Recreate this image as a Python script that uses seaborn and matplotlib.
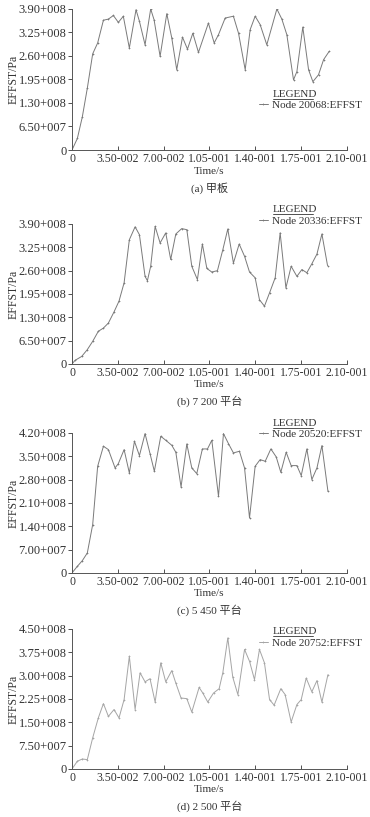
"""Curvas de tensão efetiva (EFFST) x tempo para quatro nós"""

import matplotlib
matplotlib.use("Agg")
import matplotlib.pyplot as plt
import seaborn as sns
import pandas as pd

# valores em 1e8 Pa
time_a = [0, 0.0041, 0.0079, 0.0117, 0.0158, 0.0196, 0.0240, 0.0278, 0.0316, 0.0354,
          0.0392, 0.0438, 0.0489, 0.0515, 0.0558, 0.0601, 0.0627, 0.0673, 0.0724, 0.0762,
          0.0800, 0.0844, 0.0882, 0.0923, 0.0966, 0.1042, 0.1086, 0.1119, 0.1170, 0.1233,
          0.1272, 0.1323, 0.1361, 0.1399, 0.1437, 0.1488, 0.1565, 0.1603, 0.1641, 0.1692,
          0.1718, 0.1763, 0.1807, 0.1840, 0.1883, 0.1922, 0.1965]
effst_a = [0, 0.32, 0.92, 1.71, 2.66, 2.96, 3.59, 3.62, 3.72, 3.53,
           3.70, 2.82, 3.88, 3.56, 2.91, 3.90, 3.60, 2.59, 3.77, 3.10,
           2.22, 3.12, 2.79, 3.23, 2.70, 3.51, 2.96, 3.19, 3.65, 3.70,
           3.23, 2.22, 3.33, 3.70, 3.47, 2.91, 3.90, 3.62, 3.19, 1.94,
           2.17, 3.40, 2.22, 1.89, 2.08, 2.50, 2.73]

time_b = [0, 0.0023, 0.0074, 0.0117, 0.0158, 0.0201, 0.0240, 0.0278, 0.0321, 0.0359,
          0.0398, 0.0438, 0.0482, 0.0515, 0.0558, 0.0576, 0.0601, 0.0635, 0.0673, 0.0716,
          0.0754, 0.0793, 0.0838, 0.0877, 0.0915, 0.0958, 0.0996, 0.1030, 0.1068, 0.1111,
          0.1152, 0.1190, 0.1233, 0.1277, 0.1318, 0.1356, 0.1399, 0.1432, 0.1470, 0.1509,
          0.1552, 0.1590, 0.1634, 0.1674, 0.1718, 0.1756, 0.1794, 0.1832, 0.1871, 0.1909,
          0.1952]
effst_b = [0, 0.10, 0.21, 0.40, 0.63, 0.91, 1.00, 1.14, 1.45, 1.75,
           2.26, 3.46, 3.82, 3.60, 2.44, 2.32, 2.72, 3.83, 3.37, 3.65,
           2.91, 3.62, 3.77, 3.74, 2.72, 2.35, 3.34, 2.66, 2.56, 2.60,
           3.18, 3.76, 2.81, 3.34, 3.00, 2.56, 2.40, 1.79, 1.61, 1.98,
           2.40, 3.65, 2.12, 2.72, 2.44, 2.63, 2.54, 2.79, 3.06, 3.62,
           2.74]

time_c = [0, 0.0041, 0.0079, 0.0117, 0.0158, 0.0196, 0.0240, 0.0278, 0.0329, 0.0354,
          0.0398, 0.0438, 0.0477, 0.0515, 0.0558, 0.0596, 0.0629, 0.0678, 0.0716, 0.0762,
          0.0793, 0.0833, 0.0877, 0.0915, 0.0953, 0.0996, 0.1035, 0.1068, 0.1119, 0.1157,
          0.1195, 0.1233, 0.1279, 0.1318, 0.1356, 0.1399, 0.1437, 0.1476, 0.1519, 0.1560,
          0.1595, 0.1636, 0.1674, 0.1718, 0.1751, 0.1794, 0.1832, 0.1871, 0.1909, 0.1955]
effst_c = [0, 0.20, 0.37, 0.60, 1.45, 3.20, 3.80, 3.70, 3.15, 3.28,
           3.70, 3.00, 3.95, 3.52, 4.18, 3.58, 3.05, 4.10, 3.98, 3.83,
           3.62, 2.58, 3.87, 3.15, 2.98, 3.72, 3.72, 3.98, 2.30, 4.18,
           3.88, 3.60, 3.65, 3.15, 1.65, 3.20, 3.40, 3.35, 3.72, 3.48,
           3.02, 3.62, 3.22, 3.22, 2.92, 3.72, 2.80, 3.15, 3.82, 2.45]

time_d = [0, 0.0041, 0.0079, 0.0117, 0.0158, 0.0201, 0.0240, 0.0278, 0.0321, 0.0359,
          0.0398, 0.0438, 0.0482, 0.0520, 0.0558, 0.0596, 0.0635, 0.0678, 0.0716, 0.0762,
          0.0793, 0.0833, 0.0877, 0.0915, 0.0971, 0.0999, 0.1037, 0.1081, 0.1124, 0.1152,
          0.1190, 0.1228, 0.1267, 0.1318, 0.1356, 0.1394, 0.1432, 0.1470, 0.1509, 0.1544,
          0.1595, 0.1628, 0.1674, 0.1718, 0.1751, 0.1789, 0.1832, 0.1871, 0.1909, 0.1955]
effst_d = [0, 0.25, 0.32, 0.30, 1.00, 1.64, 2.10, 1.69, 1.91, 1.64,
           2.23, 3.62, 1.91, 3.09, 2.80, 2.90, 2.15, 3.41, 2.80, 3.16,
           2.76, 2.28, 2.26, 1.83, 2.62, 2.44, 2.15, 2.44, 2.58, 3.09,
           4.21, 2.95, 2.39, 3.84, 3.46, 2.87, 3.84, 3.41, 2.23, 2.05,
           2.58, 2.39, 1.51, 2.07, 2.23, 2.92, 2.48, 2.84, 2.15, 3.03]

x_ticks = [0, 0.035, 0.07, 0.105, 0.14, 0.175, 0.21]
x_labels = ["0", "3.50-002", "7.00-002", "1.05-001", "1.40-001", "1.75-001", "2.10-001"]

y_ticks_ab = [0, 0.65, 1.30, 1.95, 2.60, 3.25, 3.90]
y_labels_ab = ["0", "6.50+007", "1.30+008", "1.95+008", "2.60+008", "3.25+008", "3.90+008"]
y_ticks_c = [0, 0.70, 1.40, 2.10, 2.80, 3.50, 4.20]
y_labels_c = ["0", "7.00+007", "1.40+008", "2.10+008", "2.80+008", "3.50+008", "4.20+008"]
y_ticks_d = [0, 0.75, 1.50, 2.25, 3.00, 3.75, 4.50]
y_labels_d = ["0", "7.50+007", "1.50+008", "2.25+008", "3.00+008", "3.75+008", "4.50+008"]

nodes = ["Node 20068:EFFST", "Node 20336:EFFST", "Node 20520:EFFST", "Node 20752:EFFST"]
captions = ["(a) 甲板", "(b) 7 200 平台", "(c) 5 450 平台", "(d) 2 500 平台"]

sns.set_style("ticks")
plt.rcParams["font.family"] = ["Liberation Serif", "Noto Sans CJK SC"]
plt.rcParams["font.size"] = 9

fig = plt.figure(figsize=(3.7, 8.17), dpi=100)

# posição do painel, altura do texto LEGEND, cor da curva
paineis = [
    (time_a, effst_a, y_ticks_ab, y_labels_ab, [0.1946, 0.8164, 0.743, 0.1726], 0.397, "#7a7a7a"),
    (time_b, effst_b, y_ticks_ab, y_labels_ab, [0.1946, 0.5545, 0.743, 0.1714], 1.10, "#7a7a7a"),
    (time_c, effst_c, y_ticks_c, y_labels_c, [0.1946, 0.2987, 0.743, 0.1714], 1.07, "#7a7a7a"),
    (time_d, effst_d, y_ticks_d, y_labels_d, [0.1946, 0.0588, 0.743, 0.1714], 0.98, "#a5a5a5"),
]

for i, (t, v, yt, yl, pos, ly, cor) in enumerate(paineis):
    ax = fig.add_axes(pos)
    df = pd.DataFrame({"t": t, "v": v})
    sns.lineplot(data=df, x="t", y="v", ax=ax, color=cor, linewidth=0.7,
                 marker="+", markersize=2, markeredgewidth=0.5, markeredgecolor=cor,
                 label=nodes[i])
    ax.set_xlim(0, 0.21)
    ax.set_ylim(0, yt[-1])
    ax.set_xticks(x_ticks)
    ax.set_xticklabels(x_labels)
    ax.set_yticks(yt)
    ax.set_yticklabels(yl)
    ax.tick_params(axis="x", direction="in", length=3, width=0.6, pad=2,
                   colors="#333333", labelsize=8.5)
    ax.tick_params(axis="y", direction="out", length=3, width=0.6, pad=1,
                   colors="#333333")
    sns.despine(ax=ax)
    for s in ["left", "bottom"]:
        ax.spines[s].set_color("#555555")
        ax.spines[s].set_linewidth(0.7)

    ax.set_xlabel("Time/s", color="#333333", fontsize=8)
    ax.set_ylabel("EFFST/Pa", color="#333333", fontsize=8.5)
    ax.xaxis.set_label_coords(0.5, -0.118)
    ax.yaxis.set_label_coords(-0.19, 0.5)
    ax.text(0.5, -0.268, captions[i], transform=ax.transAxes, ha="center", va="center",
            color="#333333", fontsize=8)

    # legenda no estilo LS-PrePost
    ax.text(0.731, ly, "LEGEND", transform=ax.transAxes, ha="left", va="center",
            color="#333333", fontsize=8)
    ax.plot([0.731, 0.876], [ly - 0.032, ly - 0.032], transform=ax.transAxes,
            color="#333333", linewidth=0.6, clip_on=False)
    ax.legend(loc="center left", bbox_to_anchor=(0.68, ly - 0.078), frameon=False,
              borderpad=0, borderaxespad=0, handlelength=0.8, handletextpad=0.35,
              labelcolor="#333333", fontsize=8)

fig.savefig("out.png", dpi=100)
